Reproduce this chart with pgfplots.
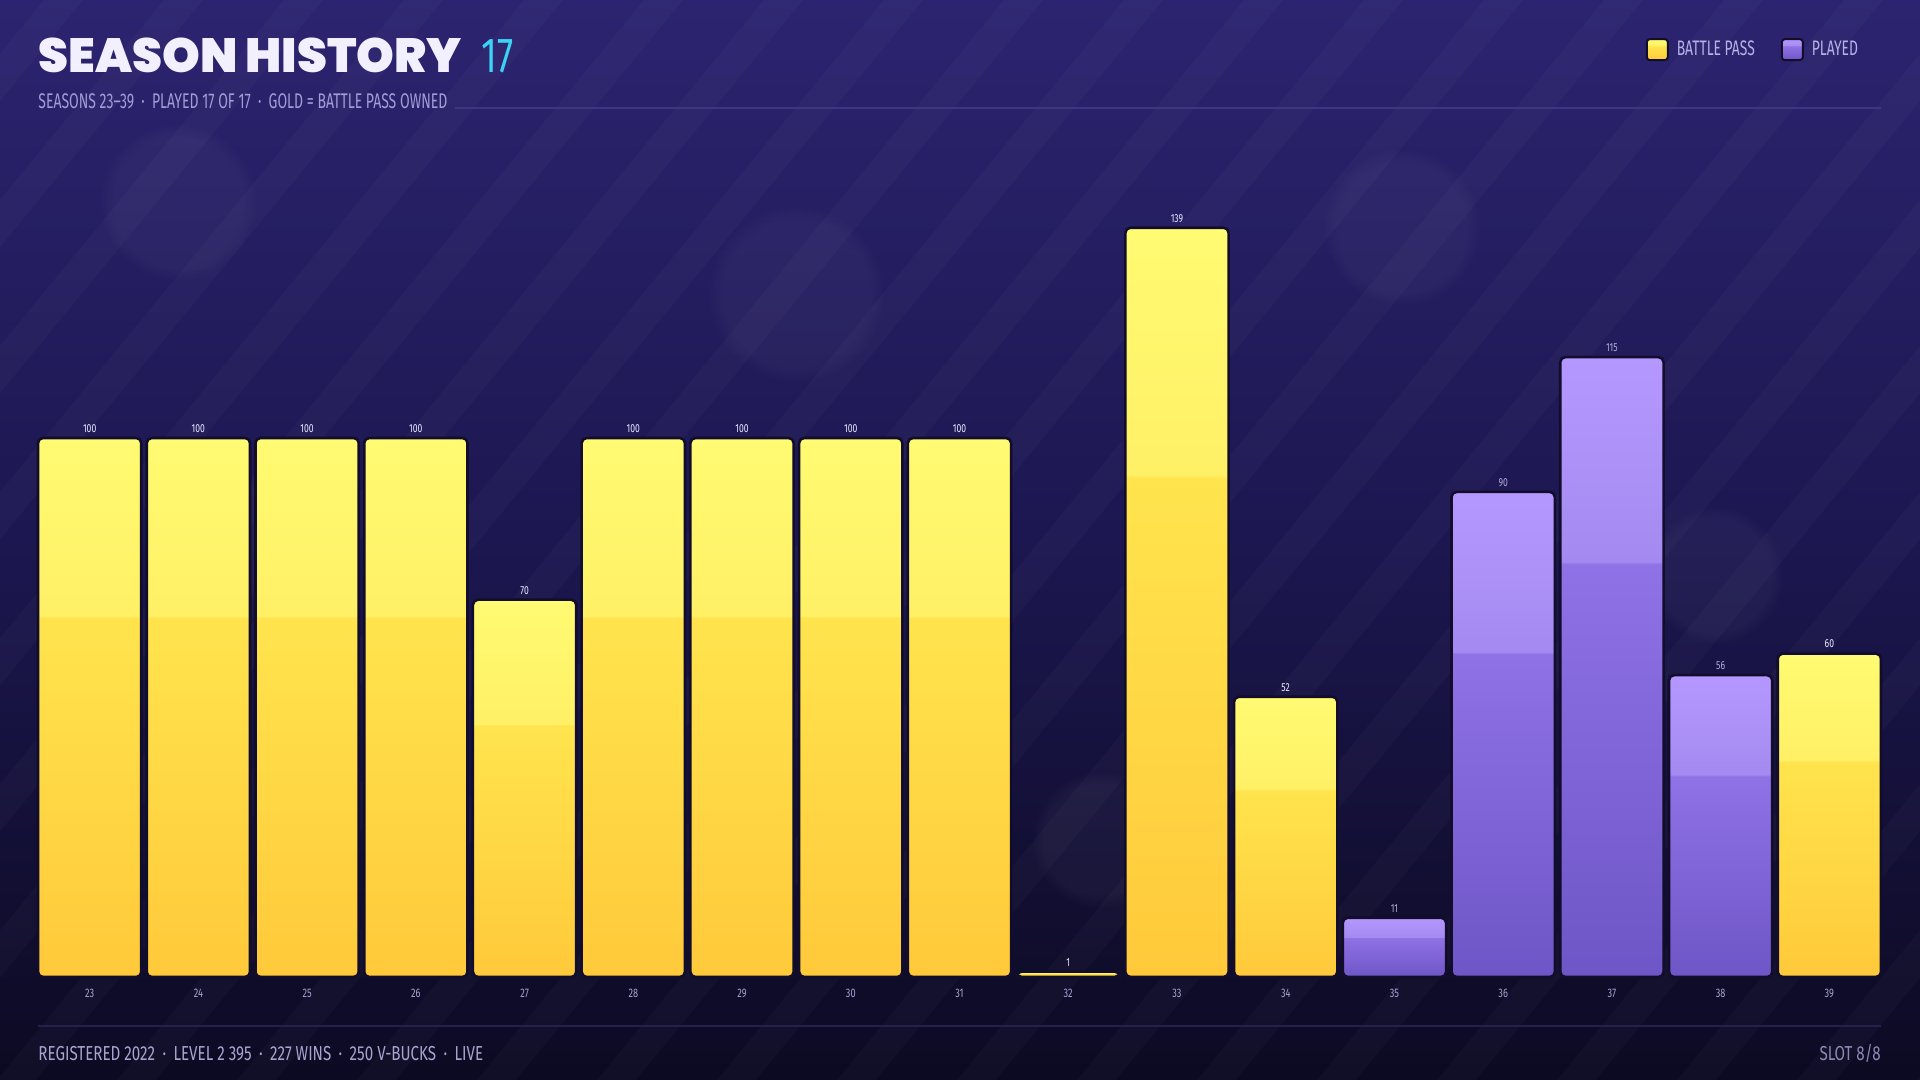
\documentclass[border=0pt]{standalone}
\usepackage{pgfplots}
\pgfplotsset{compat=1.18}
\usepackage{fontspec}
\setmainfont{Fira Sans}[FakeStretch=0.66]
\newfontfamily\numfont{Fira Sans}[FakeStretch=0.74]
\newfontfamily\footfont{Fira Sans}[FakeStretch=0.75]
\newfontfamily\titlefont{Poppins}[UprightFont=* Black]
\usetikzlibrary{fadings}
\definecolor{bgT}{HTML}{2C2470}
\definecolor{bgM}{HTML}{1C1750}
\definecolor{bgB}{HTML}{0C0A22}
\definecolor{gB}{HTML}{FFC93A}
\definecolor{gM1}{HTML}{FFE44E}
\definecolor{gM2}{HTML}{FFF066}
\definecolor{gT}{HTML}{FFFB72}
\definecolor{pB}{HTML}{6E56C6}
\definecolor{pM1}{HTML}{8F72E6}
\definecolor{pM2}{HTML}{A48AF0}
\definecolor{pT}{HTML}{B598FF}
\definecolor{barline}{HTML}{110D2A}
\definecolor{goldflat}{HTML}{FFCB3A}
\definecolor{purpflat}{HTML}{7A5FD8}
\definecolor{titlec}{HTML}{F2F0FF}
\definecolor{cyanc}{HTML}{3CD3F5}
\definecolor{subc}{HTML}{A49CD6}
\definecolor{footc}{HTML}{A9A3CF}
\definecolor{slotc}{HTML}{8E88B4}
\definecolor{tickc}{HTML}{A7A1CF}
\definecolor{lblg}{HTML}{EEEAFF}
\definecolor{lblp}{HTML}{B4ADDA}
\definecolor{legc}{HTML}{B8B0E6}
\definecolor{lineA}{HTML}{3E3680}
\definecolor{lineB}{HTML}{25204E}
\pgfdeclareverticalshading{bgshade}{100bp}{color(0bp)=(bgB); color(25bp)=(bgB); color(50bp)=(bgM); color(75bp)=(bgT); color(100bp)=(bgT)}
\pgfdeclareverticalshading{goldbar}{100bp}{color(0bp)=(gB); color(25bp)=(gB); color(58.3bp)=(gM1); color(58.5bp)=(gM2); color(75bp)=(gT); color(100bp)=(gT)}
\pgfdeclareverticalshading{purpbar}{100bp}{color(0bp)=(pB); color(25bp)=(pB); color(58.3bp)=(pM1); color(58.5bp)=(pM2); color(75bp)=(pT); color(100bp)=(pT)}
\pgfplotsset{
  goldb/.style={shading=goldbar, draw=barline, line width=1.3pt, rounded corners=2.5pt, nodes near coords style={text=lblg}},
  purpb/.style={shading=purpbar, draw=barline, line width=1.3pt, rounded corners=2.5pt, nodes near coords style={text=lblp}},
}
\begin{document}
\begin{tikzpicture}
\shade[shading=bgshade] (0,0) rectangle (960pt,540pt);
\begin{scope}[x=0.5pt,y=-0.5pt,shift={(0,540pt)}]
  \clip (0,0) rectangle (1920,1080);
  \foreach \k in {-14,...,22} {
    \draw[white, opacity=0.025, line width=15pt] (\k*120,1100) -- (\k*120+920,-20);
  }
  \foreach \cx/\cy/\r in {178/202/80, 796/294/90, 1402/227/80, 1715/575/70, 280/540/70, 1100/840/70} {
    \fill[white, opacity=0.035, path fading=circle with fuzzy edge 20 percent] (\cx,\cy) circle (\r);
  }
  \node[anchor=base west, inner sep=0pt, text=titlec] at (38,73) {\titlefont\fontsize{24}{26}\selectfont SEASON HISTORY};
  \node[anchor=base west, inner sep=0pt, text=cyanc] at (481,73) {\numfont\fontsize{24.6}{26}\selectfont 17};
  \node[anchor=base west, inner sep=0pt, text=subc] at (38,109) {\fontsize{10.6}{12}\selectfont SEASONS 23–39 \,·\, PLAYED 17 OF 17 \,·\, GOLD = BATTLE PASS OWNED};
  \draw[lineA, line width=0.6pt] (455,108) -- (1881,108);
  \draw[lineB, line width=0.6pt] (38,1026) -- (1881,1026);
  \node[anchor=base west, inner sep=0pt, text=footc] at (38,1061) {\footfont\fontsize{10.1}{12}\selectfont REGISTERED 2022 \,·\, LEVEL 2 395 \,·\, 227 WINS \,·\, 250 V-BUCKS \,·\, LIVE};
  \node[anchor=base east, inner sep=0pt, text=slotc] at (1881,1061) {\footfont\fontsize{10.1}{12}\selectfont SLOT 8/8};
\end{scope}
\begin{axis}[
  at={(19pt,51.5pt)}, anchor=south west,
  scale only axis, width=921.5pt, height=404.25pt,
  xmin=-0.475, xmax=16.475, ymin=0, ymax=150,
  clip=false,
  axis line style={draw=none},
  major tick length=0pt,
  ytick=\empty,
  xtick={0,...,16},
  xticklabels={23,24,25,26,27,28,29,30,31,32,33,34,35,36,37,38,39},
  /pgf/number format/assume math mode=true,
  xticklabel style={anchor=base, yshift=-10.5pt, text=tickc, font=\numfont\fontsize{6.2}{8}\selectfont},
  ybar, bar width=0.95, bar shift=0pt,
  nodes near coords,
  nodes near coords style={anchor=base, yshift=2.8pt, font=\numfont\fontsize{5.8}{7}\selectfont},
  legend style={at={(axis description cs:0.991,1.147)}, anchor=east, draw=none, fill=none,
    legend columns=2, text=legc, font=\fontsize{10.5}{12}\selectfont,
    nodes={inner sep=0pt},
    /tikz/every odd column/.append style={column sep=4pt},
    /tikz/every even column/.append style={column sep=13pt}},
]
\addplot[goldb, legend image code/.code={\draw[fill=goldflat, draw=barline, line width=1pt, rounded corners=1.5pt] (0pt,-5.25pt) rectangle (10.5pt,5.25pt);}]
  coordinates {(0,100)};
\addlegendentry{BATTLE PASS}
\addplot[purpb, legend image code/.code={\draw[fill=purpflat, draw=barline, line width=1pt, rounded corners=1.5pt] (0pt,-5.25pt) rectangle (10.5pt,5.25pt);}]
  coordinates {(12,11)};
\addlegendentry{PLAYED}
\addplot[goldb, forget plot] coordinates {(1,100)};
\addplot[goldb, forget plot] coordinates {(2,100)};
\addplot[goldb, forget plot] coordinates {(3,100)};
\addplot[goldb, forget plot] coordinates {(4,70)};
\addplot[goldb, forget plot] coordinates {(5,100)};
\addplot[goldb, forget plot] coordinates {(6,100)};
\addplot[goldb, forget plot] coordinates {(7,100)};
\addplot[goldb, forget plot] coordinates {(8,100)};
\addplot[goldb, forget plot] coordinates {(9,1)};
\addplot[goldb, forget plot] coordinates {(10,139)};
\addplot[goldb, forget plot] coordinates {(11,52)};
\addplot[purpb, forget plot] coordinates {(13,90)};
\addplot[purpb, forget plot] coordinates {(14,115)};
\addplot[purpb, forget plot] coordinates {(15,56)};
\addplot[goldb, forget plot] coordinates {(16,60)};
\end{axis}
\pgfresetboundingbox
\useasboundingbox (0,0) rectangle (960pt,540pt);
\end{tikzpicture}
\end{document}
